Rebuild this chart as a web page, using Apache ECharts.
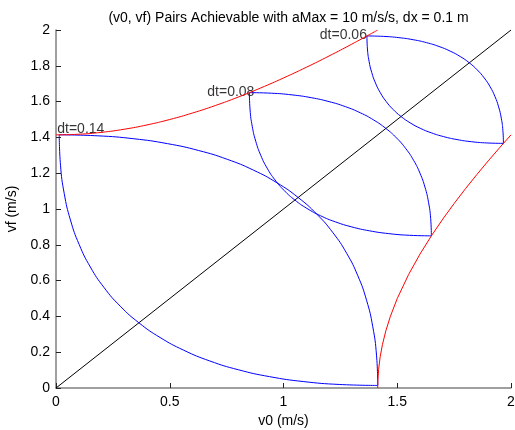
<!DOCTYPE html>
<html>
<head>
<meta charset="utf-8">
<title>(v0, vf) Pairs Achievable</title>
<script src="https://cdn.jsdelivr.net/npm/echarts@6.0.0/dist/echarts.min.js"></script>
<style>
  html, body { margin: 0; padding: 0; background: #fff; }
  #chart { width: 515px; height: 430px; }
</style>
</head>
<body>
<div id="chart"></div>
<script>
// values (v0 on x, vf on y, both m/s)
const dt14InnerV0 = [0.0143, 0.0198, 0.0362, 0.0635, 0.1018, 0.1510, 0.2112, 0.2823, 0.3643, 0.4573, 0.5612, 0.6760, 0.8018, 0.9385, 1.0862, 1.2448, 1.4143];
const dt14InnerVf = [1.4143, 1.2448, 1.0862, 0.9385, 0.8018, 0.6760, 0.5612, 0.4573, 0.3643, 0.2823, 0.2112, 0.1510, 0.1018, 0.0635, 0.0362, 0.0198, 0.0143];
const dt14OuterV0 = [0.0143, 0.1838, 0.3424, 0.4901, 0.6268, 0.7526, 0.8674, 0.9713, 1.0643, 1.1463, 1.2174, 1.2776, 1.3268, 1.3651, 1.3924, 1.4088, 1.4143];
const dt14OuterVf = [1.4143, 1.4088, 1.3924, 1.3651, 1.3268, 1.2776, 1.2174, 1.1463, 1.0643, 0.9713, 0.8674, 0.7526, 0.6268, 0.4901, 0.3424, 0.1838, 0.0143];

const dt08InnerV0 = [0.85, 0.8531, 0.8625, 0.8781, 0.9, 0.9281, 0.9625, 1.0031, 1.05, 1.1031, 1.1625, 1.2281, 1.3, 1.3781, 1.4625, 1.5531, 1.65];
const dt08InnerVf = [1.65, 1.5531, 1.4625, 1.3781, 1.3, 1.2281, 1.1625, 1.1031, 1.05, 1.0031, 0.9625, 0.9281, 0.9, 0.8781, 0.8625, 0.8531, 0.85];
const dt08OuterV0 = [0.85, 0.9469, 1.0375, 1.1219, 1.2, 1.2719, 1.3375, 1.3969, 1.45, 1.4969, 1.5375, 1.5719, 1.6, 1.6219, 1.6375, 1.6469, 1.65];
const dt08OuterVf = [1.65, 1.6469, 1.6375, 1.6219, 1.6, 1.5719, 1.5375, 1.4969, 1.45, 1.3969, 1.3375, 1.2719, 1.2, 1.1219, 1.0375, 0.9469, 0.85];

const dt06InnerV0 = [1.3667, 1.3690, 1.3760, 1.3878, 1.4042, 1.4253, 1.4510, 1.4815, 1.5167, 1.5565, 1.6010, 1.6503, 1.7042, 1.7628, 1.8260, 1.8940, 1.9667];
const dt06InnerVf = [1.9667, 1.8940, 1.8260, 1.7628, 1.7042, 1.6503, 1.6010, 1.5565, 1.5167, 1.4815, 1.4510, 1.4253, 1.4042, 1.3878, 1.3760, 1.3690, 1.3667];
const dt06OuterV0 = [1.3667, 1.4393, 1.5073, 1.5706, 1.6292, 1.6831, 1.7323, 1.7768, 1.8167, 1.8518, 1.8823, 1.9081, 1.9292, 1.9456, 1.9573, 1.9643, 1.9667];
const dt06OuterVf = [1.9667, 1.9643, 1.9573, 1.9456, 1.9292, 1.9081, 1.8823, 1.8518, 1.8167, 1.7768, 1.7323, 1.6831, 1.6292, 1.5706, 1.5073, 1.4393, 1.3667];

// red limits: full accel / full decel over dx
const accelV0 = [0, 0.1, 0.2, 0.3, 0.4, 0.5, 0.6, 0.7, 0.8, 0.9, 1.0, 1.1, 1.2, 1.3, 1.4142];
const accelVf = [1.4142, 1.4177, 1.4283, 1.4457, 1.4697, 1.5, 1.5362, 1.5780, 1.6248, 1.6763, 1.7321, 1.7916, 1.8547, 1.9209, 2.0];
const decelV0 = [1.4142, 1.415, 1.418, 1.425, 1.435, 1.45, 1.47, 1.5, 1.55, 1.6, 1.65, 1.7, 1.75, 1.8, 1.85, 1.9, 1.95, 2.0];
const decelVf = [0, 0.0472, 0.1036, 0.1750, 0.2434, 0.3202, 0.4011, 0.5, 0.6344, 0.7483, 0.85, 0.9434, 1.0308, 1.1136, 1.1927, 1.2689, 1.3426, 1.4142];

// v0 = vf line
const diagV0 = [0, 2];
const diagVf = [0, 2];

// dt labels at the corners
const labelText = ['dt=0.14', 'dt=0.08', 'dt=0.06'];
const labelV0 = [0.0143, 0.85, 1.3667];
const labelVf = [1.4143, 1.65, 1.9667];

const FONT = 'Liberation Sans, Arial, Helvetica, sans-serif';

function pairs(xs, ys) {
    return xs.map((x, i) => [x, ys[i]]);
}

function curve(xs, ys, color, smooth) {
    return {
        type: 'line',
        data: pairs(xs, ys),
        showSymbol: false,
        smooth: smooth,
        lineStyle: { color: color, width: 1 },
        silent: true
    };
}

const labelStyle = [
    { align: 'left', offset: [-2, -6] },
    { align: 'right', offset: [5, -1] },
    { align: 'right', offset: [0, -1] }
];

const chart = echarts.init(document.getElementById('chart'));
chart.setOption({
    animation: false,
    backgroundColor: '#fff',
    title: {
        text: '(v0, vf) Pairs Achievable with aMax = 10 m/s/s, dx = 0.1 m',
        left: 283.5,
        top: 6,
        textAlign: 'center',
        textStyle: { fontFamily: FONT, fontSize: 14, fontWeight: 'normal', color: '#000' }
    },
    grid: { left: 56, right: 4, top: 30, bottom: 42, outerBoundsMode: 'none' },
    xAxis: {
        type: 'value',
        min: 0,
        max: 2,
        interval: 0.5,
        name: 'v0 (m/s)',
        nameLocation: 'middle',
        nameGap: 23,
        nameTextStyle: { fontFamily: FONT, fontSize: 14, color: '#000' },
        axisLine: { onZero: false, lineStyle: { color: '#808080', width: 1.5 } },
        axisTick: { inside: true, length: 5, lineStyle: { color: '#222' } },
        axisLabel: { fontFamily: FONT, fontSize: 14, color: '#000', margin: 7 },
        splitLine: { show: false }
    },
    yAxis: {
        type: 'value',
        min: 0,
        max: 2,
        interval: 0.2,
        name: 'vf (m/s)',
        nameLocation: 'middle',
        nameGap: 31,
        nameTextStyle: { fontFamily: FONT, fontSize: 14, color: '#000' },
        axisLine: { onZero: false, lineStyle: { color: '#808080', width: 1.5 } },
        axisTick: { inside: true, length: 5, lineStyle: { color: '#222' } },
        axisLabel: { fontFamily: FONT, fontSize: 14, color: '#000', margin: 6 },
        splitLine: { show: false }
    },
    series: [
        curve(diagV0, diagVf, '#000000', false),
        curve(dt14InnerV0, dt14InnerVf, '#0000ff', true),
        curve(dt14OuterV0, dt14OuterVf, '#0000ff', true),
        curve(dt08InnerV0, dt08InnerVf, '#0000ff', true),
        curve(dt08OuterV0, dt08OuterVf, '#0000ff', true),
        curve(dt06InnerV0, dt06InnerVf, '#0000ff', true),
        curve(dt06OuterV0, dt06OuterVf, '#0000ff', true),
        curve(accelV0, accelVf, '#ff0000', true),
        curve(decelV0, decelVf, '#ff0000', false),
        {
            type: 'scatter',
            symbolSize: 0,
            silent: true,
            data: labelText.map((t, i) => ({
                name: t,
                value: [labelV0[i], labelVf[i]],
                label: labelStyle[i]
            })),
            label: {
                show: true,
                position: [0, 0],
                verticalAlign: 'middle',
                formatter: (p) => p.name,
                fontFamily: FONT,
                fontSize: 14,
                color: '#000'
            }
        }
    ]
});
</script>
</body>
</html>
